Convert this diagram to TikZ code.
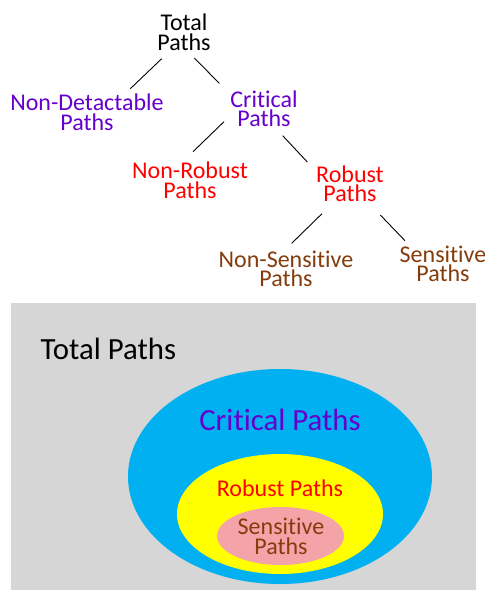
\documentclass[tikz,border=0pt]{standalone}
\usepackage{fontspec}
\setmainfont{Carlito}[Ligatures={NoCommon,NoRequired,NoContextual},Contextuals=NoAlternate]
\usepackage{tikz}
\usetikzlibrary{calc}
\usetikzlibrary{positioning,shapes}
\usepackage{xcolor}
\definecolor{critcol}{RGB}{102,0,204}
\definecolor{robcol}{RGB}{255,0,0}
\definecolor{senscol}{RGB}{132,60,12}
\definecolor{boxgray}{RGB}{214,214,214}
\definecolor{critfill}{RGB}{0,176,240}
\definecolor{robfill}{RGB}{255,255,0}
\definecolor{sensfill}{RGB}{244,163,168}
\newcommand{\tsize}{\fontsize{24}{19.5}\selectfont}
\newcommand{\bsize}{\fontsize{30.8}{36}\selectfont}

\begin{document}
\begin{tikzpicture}[x=1pt,y=1pt,
    lbl/.style={inner sep=0pt,align=center,anchor=base,font=\tsize},
    edge/.style={draw=black,line width=0.9pt}]
        \useasboundingbox (0,0) rectangle (485,-590);
        % tree
        \node[lbl] (total) at (184,-50) {Total\\Paths};
        \node[lbl,text=critcol] (nondet) at (87,-130) {Non-Detactable\\Paths};
        \node[lbl,text=critcol] (crit) at (264,-126.7) {Critical\\Paths};
        \node[lbl,text=robcol] (nonrob) at (190,-198.3) {Non-Robust\\Paths};
        \node[lbl,text=robcol] (rob) at (350,-201.7) {Robust\\Paths};
        \node[lbl,text=senscol] (nonsens) at (286,-286.7) {Non-Sensitive\\Paths};
        \node[lbl,text=senscol] (sens) at (443,-281.7) {Sensitive\\Paths};
        \draw[edge] ([shift={(-22.3,-8.7)}]total.base) -- ([shift={(43.3,41.3)}]nondet.base);
        \draw[edge] ([shift={(10.3,-8)}]total.base) -- ([shift={(-44.7,43.4)}]crit.base);
        \draw[edge] ([shift={(-40,5)}]crit.base) -- ([shift={(3,46.6)}]nonrob.base);
        \draw[edge] ([shift={(18.7,-9)}]crit.base) -- ([shift={(-42.7,39.7)}]rob.base);
        \draw[edge] ([shift={(-28,-12)}]rob.base) -- ([shift={(5.7,43.4)}]nonsens.base);
        \draw[edge] ([shift={(30.3,-13.3)}]rob.base) -- ([shift={(-38,41)}]sens.base);

        % nested sets
        \fill[boxgray] (11,-302.5) rectangle (476,-590);
        \fill[critfill] (280,-476.5) ellipse (152 and 107.5);
        \fill[robfill] (280,-514) ellipse (103 and 60);
        \fill[sensfill] (280.5,-536) ellipse (63.5 and 29);
        \node[anchor=base west,inner sep=0pt,font=\bsize] (settotal) at (40.5,-359) {Total Paths};
        \node[anchor=base,inner sep=0pt,font=\bsize,text=critcol] (setcrit) at (280,-430) {Critical Paths};
        \node[anchor=base,inner sep=0pt,font=\tsize,text=robcol] (setrob) at (280,-496) {Robust Paths};
        \node[lbl,text=senscol] (setsens) at (281,-554) {Sensitive\\Paths};

      \end{tikzpicture}
\end{document}
